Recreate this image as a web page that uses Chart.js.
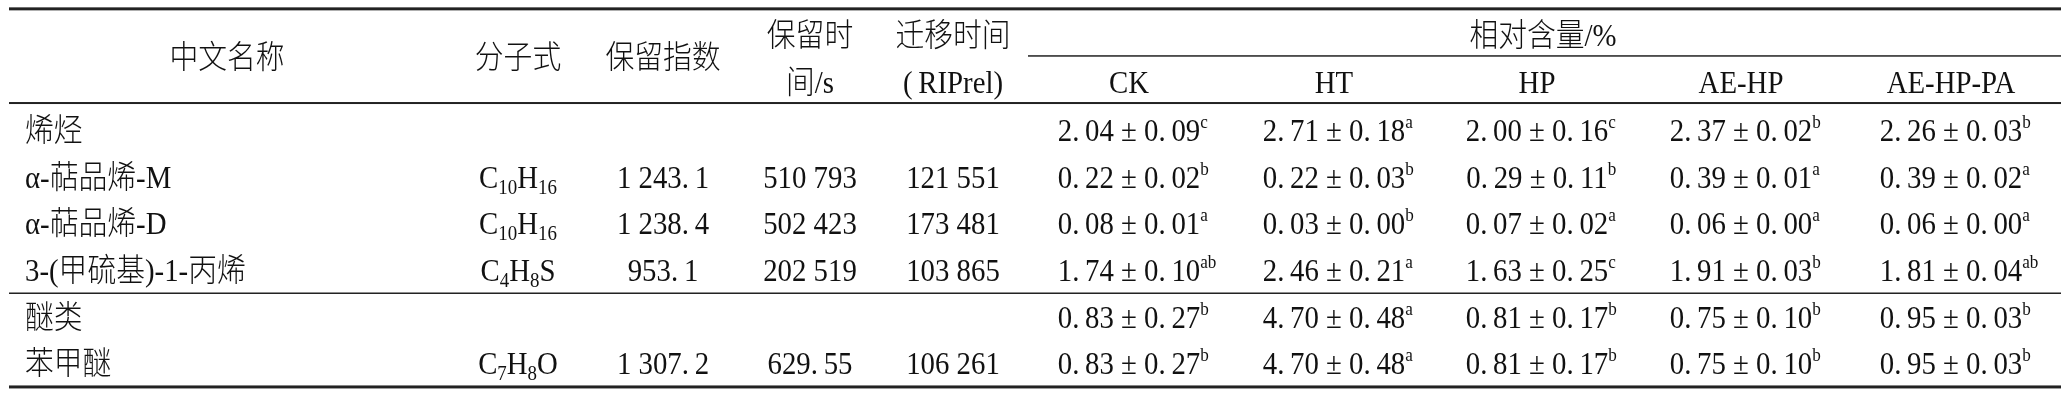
<!DOCTYPE html>
<html>
<head>
<meta charset="utf-8">
<script src="https://cdn.jsdelivr.net/npm/chart.js@4"></script>
<style>
  body { margin: 0; background: #fff; }
  canvas { display: block; }
</style>
</head>
<body>
<canvas id="table" width="2064" height="400"></canvas>
<script>
// table values
const rowNames = ['烯烃', 'α-萜品烯-M', 'α-萜品烯-D', '3-(甲硫基)-1-丙烯', '醚类', '苯甲醚'];
const formulas = [null, 'C10H16', 'C10H16', 'C4H8S', null, 'C7H8O'];
const retentionIndex = [null, 1243.1, 1238.4, 953.1, null, 1307.2];
const retentionTime = [null, 510793, 502423, 202519, null, 629.55];
const driftTime = [null, 121551, 173481, 103865, null, 106261];

const groups = ['CK', 'HT', 'HP', 'AE-HP', 'AE-HP-PA'];
const ckMean = [2.04, 0.22, 0.08, 1.74, 0.83, 0.83];
const ckSd = [0.09, 0.02, 0.01, 0.10, 0.27, 0.27];
const ckSig = ['c', 'b', 'a', 'ab', 'b', 'b'];
const htMean = [2.71, 0.22, 0.03, 2.46, 4.70, 4.70];
const htSd = [0.18, 0.03, 0.00, 0.21, 0.48, 0.48];
const htSig = ['a', 'b', 'b', 'a', 'a', 'a'];
const hpMean = [2.00, 0.29, 0.07, 1.63, 0.81, 0.81];
const hpSd = [0.16, 0.11, 0.02, 0.25, 0.17, 0.17];
const hpSig = ['c', 'b', 'a', 'c', 'b', 'b'];
const aeMean = [2.37, 0.39, 0.06, 1.91, 0.75, 0.75];
const aeSd = [0.02, 0.01, 0.00, 0.03, 0.10, 0.10];
const aeSig = ['b', 'a', 'a', 'b', 'b', 'b'];
const paMean = [2.26, 0.39, 0.06, 1.81, 0.95, 0.95];
const paSd = [0.03, 0.02, 0.00, 0.04, 0.03, 0.03];
const paSig = ['b', 'a', 'a', 'ab', 'b', 'b'];

// layout (x in canvas units, y in row units)
const colX = { name: 25, formula: 518, ri: 663, rt: 810, dt: 953, span: 1543 };
const groupX = [1129, 1334, 1537, 1741, 1951];
const headRow1 = -2.04, headRow2 = -1.03, headMid = -1.57;
const rules = [
  { row: -2.6, from: 9, to: 2061, w: 3 },
  { row: -1.59, from: 1028, to: 2061, w: 1.5 },
  { row: -0.58, from: 9, to: 2061, w: 2 },
  { row: 3.5, from: 9, to: 2061, w: 1.5 },
  { row: 5.51, from: 9, to: 2061, w: 3 }
];

const FACE = '"Liberation Serif", "Noto Sans CJK SC", serif';
const SIZE = { n: 32, sup: 19, sub: 21 };
const SX = 0.9; // condensed type, like the printed table

function fmtNum(v, dec) {
  const s = dec == null ? String(v) : v.toFixed(dec);
  let [i, f] = s.split('.');
  if (i.length > 3) i = i.replace(/\B(?=(\d{3})+(?!\d))/g, ' ');
  return f ? i + '.\u2009' + f : i;
}

function formulaRuns(f) {
  const runs = [];
  f.replace(/([A-Z][a-z]?)(\d*)/g, (m, el, n) => {
    runs.push({ t: el, k: 'n' });
    if (n) runs.push({ t: n, k: 'sub' });
  });
  return runs;
}

function valueRuns(m, sd, sig) {
  return [{ t: fmtNum(m, 2) + ' ± ' + fmtNum(sd, 2), k: 'n' }, { t: sig, k: 'sup' }];
}

const txt = t => [{ t, k: 'n' }];

function column(x, cells, align) {
  const data = [];
  cells.forEach((c, i) => { if (c) data.push({ x, y: i, cell: c }); });
  return { data, align, pointRadius: 0, showLine: false };
}

const datasets = [
  column(colX.name, rowNames.map(txt), 'left'),
  column(colX.formula, formulas.map(f => f && formulaRuns(f)), 'center'),
  column(colX.ri, retentionIndex.map(v => v && txt(fmtNum(v))), 'center'),
  column(colX.rt, retentionTime.map(v => v && txt(fmtNum(v))), 'center'),
  column(colX.dt, driftTime.map(v => v && txt(fmtNum(v))), 'center')
];
[[ckMean, ckSd, ckSig], [htMean, htSd, htSig], [hpMean, hpSd, hpSig],
 [aeMean, aeSd, aeSig], [paMean, paSd, paSig]].forEach(([m, s, g], gi) => {
  datasets.push(column(groupX[gi], m.map((v, i) => valueRuns(v, s[i], g[i])), 'center'));
});

// header cells
const header = [
  { x: 227, y: headMid, cell: txt('中文名称') },
  { x: colX.formula, y: headMid, cell: txt('分子式') },
  { x: colX.ri, y: headMid, cell: txt('保留指数') },
  { x: colX.rt, y: headRow1, cell: txt('保留时') },
  { x: colX.rt, y: headRow2, cell: txt('间/s') },
  { x: colX.dt, y: headRow1, cell: txt('迁移时间') },
  { x: colX.dt, y: headRow2, cell: txt('(\u2009RIPrel)') },
  { x: colX.span, y: headRow1, cell: txt('相对含量/%') }
];
groups.forEach((g, i) => header.push({ x: groupX[i], y: headRow2, cell: txt(g) }));
datasets.push({ data: header, align: 'center', pointRadius: 0, showLine: false });

function setFont(ctx, k) {
  ctx.font = '300 ' + SIZE[k] + 'px ' + FACE;
}

function drawRuns(ctx, runs, x, y, align) {
  let w = 0;
  runs.forEach(r => {
    setFont(ctx, r.k);
    r.w = ctx.measureText(r.t).width * SX;
    if (r.k !== 'sup') w += r.w;
  });
  let cx = align === 'left' ? x : x - w / 2;
  const base = y + 11;
  runs.forEach(r => {
    setFont(ctx, r.k);
    let by = base;
    if (r.k === 'sup') by = base - 13;
    if (r.k === 'sub') by = base + 6;
    ctx.save();
    ctx.translate(cx, by);
    ctx.scale(SX, 1);
    ctx.fillText(r.t, 0, 0);
    ctx.restore();
    cx += r.w;
  });
}

const tablePlugin = {
  id: 'tablePlugin',
  afterDatasetsDraw(chart) {
    const { ctx, scales: { x, y } } = chart;
    ctx.save();
    ctx.fillStyle = '#222';
    rules.forEach(r => {
      const py = y.getPixelForValue(r.row);
      const x0 = x.getPixelForValue(r.from), x1 = x.getPixelForValue(r.to);
      ctx.fillRect(x0, py - r.w / 2, x1 - x0, r.w);
    });
    ctx.fillStyle = '#111';
    ctx.textBaseline = 'alphabetic';
    ctx.textAlign = 'left';
    chart.data.datasets.forEach((ds, di) => {
      const meta = chart.getDatasetMeta(di);
      meta.data.forEach((pt, i) => drawRuns(ctx, ds.data[i].cell, pt.x, pt.y, ds.align));
    });
    ctx.restore();
  }
};

new Chart(document.getElementById('table'), {
  type: 'scatter',
  data: { datasets },
  options: {
    responsive: false,
    animation: false,
    layout: { padding: 0 },
    plugins: { legend: { display: false }, tooltip: { enabled: false } },
    scales: {
      x: { type: 'linear', display: false, min: 0, max: 2064 },
      y: { type: 'linear', display: false, reverse: true, min: -2.79, max: 5.79 }
    }
  },
  plugins: [tablePlugin]
});
</script>
</body>
</html>
